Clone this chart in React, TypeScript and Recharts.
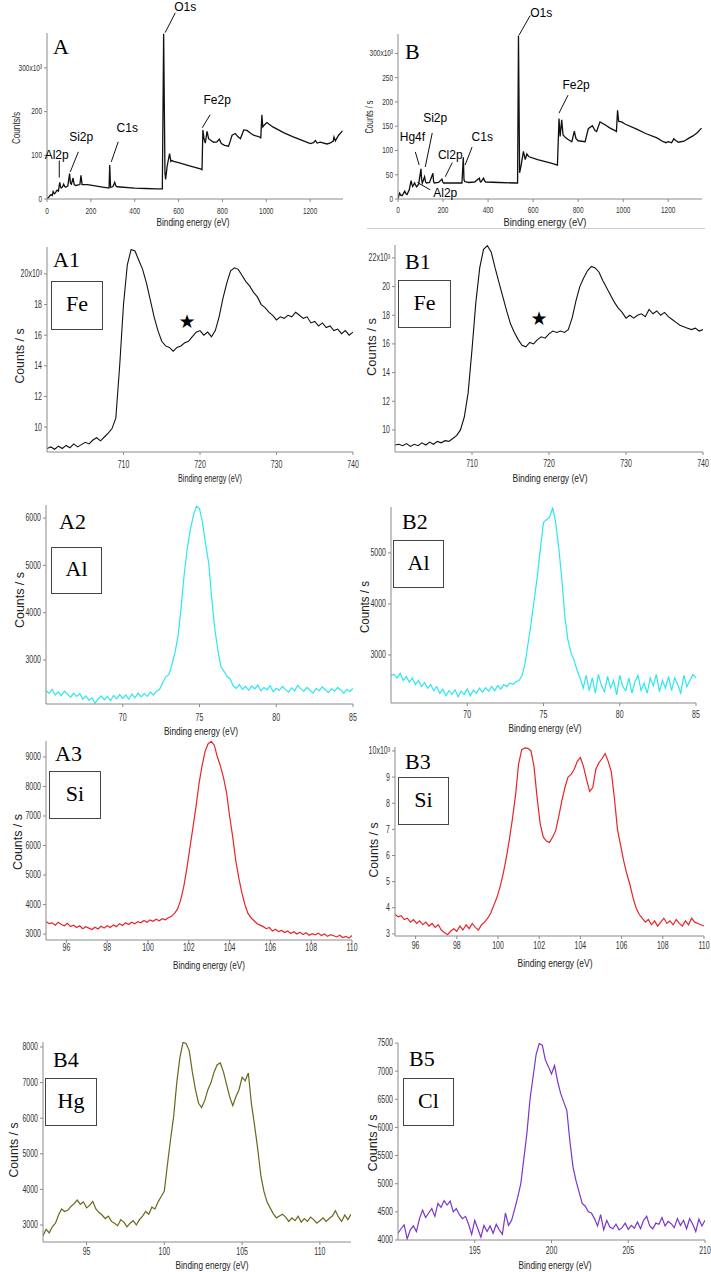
import React from 'react';
import { LineChart, Line, XAxis, YAxis, ReferenceLine, ReferenceDot } from 'recharts';

const SANS = "'Liberation Sans', Arial, Helvetica, sans-serif";
const SERIF = "'Liberation Serif', 'Times New Roman', Times, serif";

// ---------- Survey A (binding energy eV, counts/s x10^3) ----------
const surveyAEnergy = [0, 8, 12, 18, 24, 28, 34, 38, 46, 52, 58, 62, 65, 70, 76, 80, 85, 95, 103, 107, 111, 119, 124, 131, 150, 155, 160, 185, 220, 246, 270, 283, 286, 290, 300, 309, 314, 320, 400, 450, 500, 526, 532, 538, 541, 548, 559, 565, 570, 578, 600, 650, 700, 707, 711, 716, 722, 730, 737, 745, 760, 775, 786, 795, 810, 828, 836, 844, 859, 870, 882, 890, 897, 912, 930, 942, 965, 975, 980, 984, 992, 1003, 1030, 1079, 1120, 1155, 1201, 1215, 1224, 1232, 1246, 1277, 1290, 1305, 1309, 1315, 1330, 1348];
const surveyACounts = [1, 4, 7, 10, 8, 17, 12, 14, 20, 18, 38, 28, 25, 27, 34, 29, 27, 30, 58, 36, 34, 48, 33, 31, 33, 54, 33, 33, 30, 28, 26, 25, 78, 27, 28, 38, 30, 28, 25, 24, 23, 23, 378, 60, 45, 75, 104, 86, 88, 86, 83, 76, 69, 67, 158, 138, 128, 155, 138, 135, 130, 131, 137, 127, 123, 121, 133, 146, 150, 143, 138, 148, 158, 157, 150, 146, 143, 140, 193, 165, 170, 175, 165, 152, 143, 136, 127, 129, 134, 128, 130, 126, 128, 132, 142, 133, 146, 156];

// ---------- Survey B ----------
const surveyBEnergy = [0, 7, 12, 18, 24, 30, 36, 40, 50, 58, 62, 65, 74, 79, 83, 92, 102, 105, 108, 118, 122, 126, 140, 155, 158, 161, 180, 195, 199, 202, 250, 284, 290, 293, 296, 313, 340, 361, 365, 368, 380, 385, 390, 450, 520, 531, 535, 540, 547, 557, 565, 572, 582, 620, 680, 708, 715, 720, 727, 733, 745, 757, 772, 783, 790, 800, 831, 845, 863, 875, 882, 897, 919, 942, 964, 970, 975, 980, 993, 1010, 1060, 1100, 1150, 1178, 1190, 1200, 1215, 1225, 1232, 1245, 1270, 1290, 1310, 1330, 1348];
const surveyBCounts = [1, 12, 8, 7, 11, 16, 10, 9, 19, 38, 30, 26, 33, 28, 25, 31, 62, 40, 33, 46, 36, 33, 34, 53, 36, 33, 34, 41, 35, 33, 33, 33, 86, 40, 36, 34, 35, 43, 36, 35, 43, 37, 35, 34, 33, 33, 337, 54, 70, 98, 81, 93, 87, 81, 74, 70, 166, 129, 163, 132, 126, 122, 118, 140, 125, 120, 118, 145, 151, 141, 139, 159, 153, 146, 141, 139, 183, 160, 159, 154, 144, 135, 126, 118, 116, 118, 116, 124, 121, 117, 119, 125, 130, 137, 146];

// ---------- Fe 2p (700 -> 740 eV, step 0.5), counts/s x10^3 ----------
const fe2pA = [
  8.6, 8.7, 8.55, 8.75, 8.6, 8.8, 8.65, 8.9, 8.7, 8.85,
  9.0, 8.9, 9.15, 9.3, 9.1, 9.35, 9.6, 9.9, 10.6, 14.0,
  18.0, 20.6, 21.6, 21.5, 20.9, 20.3, 19.4, 18.3, 17.2, 16.3,
  15.6, 15.3, 15.2, 14.95, 15.2, 15.3, 15.5, 15.6, 15.9, 16.2,
  16.3, 16.0, 16.2, 15.9, 16.3, 17.2, 18.4, 19.4, 20.2, 20.4,
  20.3, 19.9, 19.5, 19.2, 18.8, 18.5, 18.0, 17.8, 17.5, 17.3,
  17.0, 17.2, 17.1, 17.3, 17.2, 17.5, 17.3, 17.1, 17.2, 16.8,
  16.9, 16.6, 16.8, 16.5, 16.6, 16.3, 16.4, 16.1, 16.3, 16.0,
  16.2,
];
const fe2pB = [
  8.95, 9.0, 8.9, 9.05, 8.85, 9.0, 8.9, 9.1, 8.95, 9.15,
  9.0, 9.2, 9.1, 9.25, 9.2, 9.4, 9.6, 10.0, 10.9, 12.6,
  15.6, 18.9, 21.3, 22.6, 22.85, 22.4, 21.3, 20.3, 19.3, 18.3,
  17.4, 16.8, 16.3, 15.9, 15.8, 16.1, 16.0, 16.3, 16.5, 16.4,
  16.7, 16.9, 16.8, 16.9, 16.8, 17.0, 17.8, 19.0, 20.0, 20.6,
  21.1, 21.4, 21.3, 21.0, 20.4, 19.9, 19.4, 18.9, 18.5, 18.2,
  17.8, 18.0, 17.8, 18.0, 18.1, 17.9, 18.4, 18.1, 18.3, 18.0,
  18.2, 17.9, 17.7, 17.5, 17.3, 17.2, 17.1, 17.0, 17.1, 16.9,
  17.0,
];

// ---------- Al 2p (65 -> 85 eV, step 0.2) ----------
const al2pA = [
  2350, 2300, 2380, 2260, 2320, 2250, 2340, 2280, 2210, 2300,
  2230, 2290, 2170, 2240, 2150, 2200, 2090, 2180, 2240, 2160,
  2230, 2140, 2250, 2180, 2270, 2190, 2260, 2170, 2280, 2200,
  2300, 2220, 2290, 2230, 2320, 2260, 2340, 2380, 2520, 2640,
  2690, 2900, 3150, 3500, 4100, 4800, 5350, 5750, 6050, 6250,
  6200, 5900, 5450, 5050, 4300, 3650, 3200, 2850, 2760, 2650,
  2600, 2450, 2400, 2480, 2380, 2440, 2360, 2450, 2390, 2470,
  2350, 2420, 2370, 2460, 2330, 2400, 2360, 2440, 2380, 2320,
  2410, 2350, 2460, 2390, 2340, 2420, 2360, 2300, 2400, 2350,
  2430, 2370, 2310, 2390, 2340, 2420, 2360, 2300, 2380, 2330,
  2400,
];
const al2pB = [
  2600, 2620, 2550, 2640, 2500, 2580, 2470, 2550, 2420, 2500,
  2380, 2460, 2350, 2420, 2300, 2380, 2250, 2330, 2200, 2300,
  2230, 2320, 2180, 2290, 2220, 2340, 2200, 2310, 2250, 2350,
  2270, 2360, 2290, 2380, 2300, 2400, 2330, 2420, 2380, 2450,
  2420, 2480, 2500, 2600, 2850, 3250, 3650, 4100, 4550, 5100,
  5600, 5650, 5700, 5880, 5600, 5100, 4500, 3750, 3300, 3050,
  2900, 2700, 2550, 2350, 2600, 2300, 2550, 2250, 2620, 2400,
  2280, 2580, 2350, 2500, 2220, 2600, 2380, 2300, 2550, 2250,
  2480, 2600, 2300, 2450, 2250, 2550, 2400, 2620, 2280, 2500,
  2350, 2580, 2300, 2550, 2420, 2250, 2600, 2380, 2500, 2620,
  2550,
];

// ---------- Si 2p (95 -> 110 eV, step 0.15) ----------
const si2pA = [
  3420, 3350, 3380, 3300, 3400, 3320, 3280, 3360, 3250, 3300,
  3220, 3280, 3180, 3250, 3200, 3150, 3230, 3170, 3260, 3200,
  3280, 3220, 3310, 3250, 3350, 3290, 3380, 3320, 3400, 3350,
  3420, 3380, 3460, 3400, 3480, 3430, 3500, 3450, 3520, 3480,
  3550, 3600, 3700, 3850, 4150, 4600, 5200, 5900, 6600, 7300,
  8100, 8700, 9200, 9450, 9530, 9400, 9000, 8700, 8300, 7800,
  7000, 6300, 5500, 4900, 4400, 4000, 3700, 3550, 3450, 3350,
  3300, 3250, 3180, 3220, 3100, 3160, 3080, 3120, 3050, 3100,
  3020, 3080, 3000, 3060, 2980, 3040, 2960, 3010, 2970, 3030,
  2950, 3000, 2920, 2980, 2940, 2900, 2960, 2880, 2920, 2860,
  2950,
];
const si2pB = [
  3.75, 3.65, 3.70, 3.55, 3.60, 3.45, 3.55, 3.40, 3.50, 3.35,
  3.45, 3.30, 3.40, 3.25, 3.35, 3.15, 3.05, 2.97, 3.10, 3.20,
  3.10, 3.30, 3.15, 3.35, 3.20, 3.40, 3.25, 3.15, 3.35, 3.45,
  3.60, 3.80, 4.10, 4.40, 4.80, 5.30, 5.90, 6.60, 7.40, 8.30,
  9.50, 10.05, 10.12, 10.10, 10.00, 9.40, 8.20, 7.20, 6.70, 6.55,
  6.50, 6.70, 6.95, 7.50, 8.10, 8.60, 9.00, 9.10, 9.30, 9.60,
  9.75, 9.40, 8.90, 8.45, 8.60, 9.30, 9.55, 9.70, 9.90, 9.60,
  9.20, 8.20, 7.00, 6.40, 5.80, 5.30, 4.90, 4.40, 4.00, 3.75,
  3.60, 3.45, 3.55, 3.35, 3.50, 3.30, 3.45, 3.60, 3.40, 3.50,
  3.35, 3.55, 3.40, 3.30, 3.50, 3.35, 3.60, 3.45, 3.40, 3.35,
  3.30,
];

// ---------- Hg 4f (92.2 -> 112.0 eV, step 0.2) ----------
const hg4fB = [
  2700, 2880, 2780, 2950, 3050, 3280, 3450, 3380, 3420, 3520,
  3600, 3700, 3580, 3650, 3480, 3550, 3660, 3450, 3350, 3280,
  3180, 3250, 3100, 3050, 2980, 3150, 3080, 2950, 3050, 3120,
  3000, 3150, 3250, 3380, 3300, 3500, 3450, 3650, 3800, 3950,
  4700, 5400, 6050, 7000, 7700, 8130, 8100, 7900, 7300, 6800,
  6420, 6300, 6500, 6800, 7000, 7300, 7500, 7550, 7300, 6950,
  6600, 6350, 6600, 6800, 7150, 7050, 7270, 6400, 5800, 5150,
  4400, 3950, 3650, 3480, 3320, 3200, 3250, 3300, 3220, 3100,
  3200, 3120, 3250, 3080, 3180, 3100, 3220, 3150, 3050, 3120,
  3200, 3100, 3180, 3250, 3400, 3220, 3100, 3280, 3150, 3300,
];

// ---------- Cl 2p (190 -> 210 eV, step 0.2) ----------
const cl2pB = [
  4120, 4200, 4270, 4020, 4180, 4250, 4150, 4380, 4530, 4400,
  4480, 4560, 4420, 4650, 4580, 4700, 4620, 4690, 4500, 4560,
  4450, 4380, 4420, 4280, 4100, 4350, 4200, 4050, 4260, 4150,
  4250, 4120, 4280, 4180, 4100, 4480, 4260, 4350, 4550, 4760,
  5000, 5450, 5900, 6500, 6900, 7300, 7490, 7460, 7200, 7080,
  6950, 7100, 6820, 6600, 6450, 6300, 5750, 5300, 5050, 4850,
  4650, 4600, 4500, 4480, 4380, 4250, 4450, 4180, 4350, 4230,
  4200, 4280, 4180, 4220, 4300, 4190, 4260, 4210, 4320, 4200,
  4350, 4420, 4250, 4200, 4300, 4280, 4400, 4250, 4330, 4290,
  4220, 4380, 4260, 4350, 4200, 4380, 4280, 4150, 4370, 4250,
  4350,
];

// ---------- tick labels ----------
const surveyTicks = [0, 200, 400, 600, 800, 1000, 1200];
const feTicks = [710, 720, 730, 740];
const alTicks = [70, 75, 80, 85];
const siTicks = [96, 98, 100, 102, 104, 106, 108, 110];
const hgTicks = [95, 100, 105, 110];
const clTicks = [195, 200, 205, 210];

type Pt = { e: number; v: number };
const grid = (start: number, step: number, vals: number[]): Pt[] =>
  vals.map((v, i) => ({ e: Math.round((start + i * step) * 1000) / 1000, v }));
const pairs = (es: number[], vs: number[]): Pt[] => es.map((e, i) => ({ e, v: vs[i] }));

interface Leader { x1: number; y1: number; x2: number; y2: number }
interface Note { text: string; x: number; y: number; size: number; font?: string }

interface PanelProps {
  data: Pt[];
  xDomain: [number, number];
  xTicks: number[];
  yDomain: [number, number];
  yTicks: number[];
  left: number; top: number; right: number; bottom: number;
  color: string; sw: number; fs: number; sx: number; xdy: number;
  sup?: Record<number, string>;
  leaders?: Leader[];
  notes?: Note[];
}

function Panel(p: PanelProps) {
  const YW = 45, MR = 12, XH = 30;
  const MT = Math.min(40, p.top);
  const w = p.right - p.left + YW + MR;
  const h = p.bottom - p.top + MT + XH;
  const xTick = (props: any) => {
    const { x, y, payload } = props;
    return (
      <text x={x} y={y - 5 + p.xdy} textAnchor="middle" dominantBaseline="central" fontSize={p.fs}
        fontFamily={SANS} fill="#333" transform={`translate(${x} 0) scale(${p.sx} 1) translate(${-x} 0)`}>
        {payload.value}
      </text>
    );
  };
  const yTick = (props: any) => {
    const { x, y, payload } = props;
    const label = p.sup && p.sup[payload.value] ? p.sup[payload.value] : String(payload.value);
    return (
      <text x={x} y={y} textAnchor="end" dominantBaseline="central" fontSize={p.fs}
        fontFamily={SANS} fill="#333" transform={`translate(${x} 0) scale(${p.sx} 1) translate(${-x} 0)`}>
        {label}
      </text>
    );
  };
  return (
    <div style={{ position: 'absolute', left: p.left - YW, top: p.top - MT, width: w, height: h }}>
      <LineChart width={w} height={h} data={p.data} margin={{ top: MT, right: MR, left: 0, bottom: 0 }}>
        <XAxis type="number" dataKey="e" domain={p.xDomain} ticks={p.xTicks} interval={0} allowDataOverflow
          height={XH} tickSize={3} tickMargin={2} stroke="#8a8a8a" tick={xTick} />
        <YAxis type="number" dataKey="v" domain={p.yDomain} ticks={p.yTicks} interval={0} allowDataOverflow
          width={YW} tickSize={3} tickMargin={2} stroke="#8a8a8a" tick={yTick} />
        <Line type="linear" dataKey="v" stroke={p.color} strokeWidth={p.sw} dot={false} isAnimationActive={false} />
        {(p.leaders || []).map((l, i) => (
          <ReferenceLine key={'l' + i} segment={[{ x: l.x1, y: l.y1 }, { x: l.x2, y: l.y2 }]}
            ifOverflow="visible" stroke="#111" strokeWidth={1} />
        ))}
        {(p.notes || []).map((n, i) => (
          <ReferenceDot key={'n' + i} x={n.x} y={n.y} r={0.01} fill="none" stroke="none" ifOverflow="visible"
            label={{ value: n.text, position: 'center', fontSize: n.size, fill: '#000', fontFamily: n.font || SANS }} />
        ))}
      </LineChart>
    </div>
  );
}

const XTitle = ({ cx, cy, w, fs = 11 }: { cx: number; cy: number; w: number; fs?: number }) => (
  <div style={{ position: 'absolute', left: cx, top: cy, transform: `translate(-50%,-50%) scaleX(${w / (8.837 * fs)})`,
    fontSize: fs, fontFamily: SANS, whiteSpace: 'nowrap', lineHeight: 1, color: '#222' }}>Binding energy (eV)</div>
);

const YTitle = ({ cx, cy, len, text = 'Counts / s', fs = 12 }: { cx: number; cy: number; len: number; text?: string; fs?: number }) => {
  const em = text === 'Counts/s' ? 3.946 : 4.502;
  return (
    <div style={{ position: 'absolute', left: cx, top: cy,
      transform: `translate(-50%,-50%) rotate(-90deg) scaleX(${len / (em * fs)})`,
      fontSize: fs, fontFamily: SANS, whiteSpace: 'nowrap', lineHeight: 1, color: '#222' }}>{text}</div>
  );
};

const PLabel = ({ x, y, t }: { x: number; y: number; t: string }) => (
  <div style={{ position: 'absolute', left: x, top: y - 4, fontSize: 22, fontFamily: SERIF, lineHeight: 1, color: '#000' }}>{t}</div>
);

const EBox = ({ l, t, r, b, text }: { l: number; t: number; r: number; b: number; text: string }) => (
  <div style={{ position: 'absolute', left: l, top: t, width: r - l, height: b - t, boxSizing: 'border-box',
    border: '1.3px solid #444', display: 'flex', alignItems: 'center', justifyContent: 'center',
    fontFamily: SERIF, fontSize: 22, lineHeight: 1, color: '#000', paddingBottom: 3 }}>{text}</div>
);

const leadersA: Leader[] = [
  { x1: 585, y1: 426, x2: 539, y2: 381 },
  { x1: 744, y1: 193, x2: 708, y2: 163 },
  { x1: 325, y1: 131, x2: 293, y2: 85 },
  { x1: 143, y1: 108, x2: 106, y2: 62 },
  { x1: 56, y1: 88, x2: 56, y2: 49 },
];
const notesA: Note[] = [
  { text: 'O1s', x: 630, y: 440, size: 12 },
  { text: 'Fe2p', x: 776, y: 227, size: 12 },
  { text: 'C1s', x: 366, y: 164, size: 12 },
  { text: 'Si2p', x: 156, y: 143, size: 12 },
  { text: 'Al2p', x: 44, y: 101, size: 12 },
];
const leadersB: Leader[] = [
  { x1: 587, y1: 378, x2: 538, y2: 338 },
  { x1: 755, y1: 214, x2: 715, y2: 177 },
  { x1: 77, y1: 97, x2: 94, y2: 70 },
  { x1: 152, y1: 136, x2: 121, y2: 66 },
  { x1: 241, y1: 75, x2: 210, y2: 46 },
  { x1: 329, y1: 107, x2: 298, y2: 70 },
  { x1: 143, y1: 19, x2: 86, y2: 34 },
];
const notesB: Note[] = [
  { text: 'O1s', x: 636, y: 383, size: 12 },
  { text: 'Fe2p', x: 791, y: 235, size: 12 },
  { text: 'Hg4f', x: 64, y: 128, size: 12 },
  { text: 'Si2p', x: 165, y: 167, size: 12 },
  { text: 'Cl2p', x: 232, y: 91, size: 12 },
  { text: 'C1s', x: 374, y: 128, size: 12 },
  { text: 'Al2p', x: 210, y: 13, size: 12 },
];

export default function App() {
  const black = '#111';
  const cyan = '#2ee6ef';
  const red = '#e5252a';
  const olive = '#6b671a';
  const purple = '#7a35c9';
  return (
    <div style={{ position: 'absolute', left: 0, top: 0, width: 711, height: 1272, background: '#fff', overflow: 'hidden' }}>
      <Panel data={pairs(surveyAEnergy, surveyACounts)} xDomain={[0, 1350]} xTicks={surveyTicks}
        yDomain={[0, 380]} yTicks={[0, 100, 200, 300]} left={47} top={33} right={343} bottom={199}
        color={black} sw={1.3} fs={9} sx={0.72} xdy={12} sup={{ 300: '300x10³' }} leaders={leadersA} notes={notesA} />
      <Panel data={pairs(surveyBEnergy, surveyBCounts)} xDomain={[0, 1350]} xTicks={surveyTicks}
        yDomain={[0, 340]} yTicks={[0, 50, 100, 150, 200, 250, 300]} left={398} top={34} right={702} bottom={199}
        color={black} sw={1.3} fs={9} sx={0.72} xdy={11} sup={{ 300: '300x10³' }} leaders={leadersB} notes={notesB} />

      <Panel data={grid(700, 0.5, fe2pA)} xDomain={[700, 740]} xTicks={feTicks}
        yDomain={[8.37, 21.76]} yTicks={[10, 12, 14, 16, 18, 20]} left={47} top={247} right={353} bottom={452}
        color={black} sw={1.1} fs={10} sx={0.7} xdy={13} sup={{ 20: '20x10³' }}
        notes={[{ text: '★', x: 718.3, y: 16.9, size: 19, font: "'DejaVu Sans', sans-serif" }]} />
      <Panel data={grid(700, 0.5, fe2pB)} xDomain={[700, 740]} xTicks={feTicks}
        yDomain={[8.46, 22.9]} yTicks={[10, 12, 14, 16, 18, 20, 22]} left={395} top={245} right={703} bottom={452}
        color={black} sw={1.1} fs={10} sx={0.7} xdy={12} sup={{ 22: '22x10³' }}
        notes={[{ text: '★', x: 718.7, y: 17.8, size: 19, font: "'DejaVu Sans', sans-serif" }]} />

      <Panel data={grid(65, 0.2, al2pA)} xDomain={[65, 85]} xTicks={alTicks}
        yDomain={[2070, 6275]} yTicks={[3000, 4000, 5000, 6000]} left={46} top={505} right={353} bottom={704}
        color={cyan} sw={1.2} fs={10} sx={0.7} xdy={14} />
      <Panel data={grid(65, 0.2, al2pB)} xDomain={[65, 85]} xTicks={alTicks}
        yDomain={[2059, 5900]} yTicks={[3000, 4000, 5000]} left={391} top={507} right={696} bottom={703}
        color={cyan} sw={1.2} fs={10} sx={0.7} xdy={12} />

      <Panel data={grid(95, 0.15, si2pA)} xDomain={[95, 110]} xTicks={siTicks}
        yDomain={[2797, 9542]} yTicks={[3000, 4000, 5000, 6000, 7000, 8000, 9000]} left={46} top={741} right={352} bottom={940}
        color={red} sw={1.2} fs={10} sx={0.7} xdy={8} />
      <Panel data={grid(95, 0.15, si2pB)} xDomain={[95, 110]} xTicks={siTicks}
        yDomain={[2.92, 10.15]} yTicks={[3, 4, 5, 6, 7, 8, 9, 10]} left={395} top={747} right={704} bottom={936}
        color={red} sw={1.2} fs={10} sx={0.7} xdy={10} sup={{ 10: '10x10³' }} />

      <Panel data={grid(92.2, 0.2, hg4fB)} xDomain={[92.2, 112]} xTicks={hgTicks}
        yDomain={[2522, 8140]} yTicks={[3000, 4000, 5000, 6000, 7000, 8000]} left={43} top={1042} right={351} bottom={1242}
        color={olive} sw={1.2} fs={10} sx={0.7} xdy={10} />
      <Panel data={grid(190, 0.2, cl2pB)} xDomain={[190, 210]} xTicks={clTicks}
        yDomain={[4000, 7500]} yTicks={[4000, 4500, 5000, 5500, 6000, 6500, 7000, 7500]} left={398} top={1043} right={705} bottom={1240}
        color={purple} sw={1.2} fs={10} sx={0.7} xdy={11} />

      {/* separator under panel B */}
      <div style={{ position: 'absolute', left: 367, top: 228, width: 338, height: 1, background: '#cfcfcf' }} />

      {/* axis titles */}
      <XTitle cx={193} cy={222} w={73} />
      <XTitle cx={545} cy={222} w={83} />
      <XTitle cx={210} cy={478} w={64} />
      <XTitle cx={550} cy={478} w={75} />
      <XTitle cx={201} cy={731} w={74} />
      <XTitle cx={545} cy={728} w={73} />
      <XTitle cx={209} cy={965} w={72} />
      <XTitle cx={555} cy={963} w={75} />
      <XTitle cx={212} cy={1265} w={73} fs={10.5} />
      <XTitle cx={555} cy={1265} w={73} fs={10.5} />

      <YTitle cx={17} cy={128} len={32} text="Counts/s" fs={10} />
      <YTitle cx={370} cy={117} len={33} fs={10} />
      <YTitle cx={20} cy={356} len={55} />
      <YTitle cx={372} cy={347} len={58} />
      <YTitle cx={20} cy={600} len={56} />
      <YTitle cx={365} cy={607} len={52} />
      <YTitle cx={18} cy={842} len={56} />
      <YTitle cx={374} cy={850} len={55} />
      <YTitle cx={14} cy={1150} len={55} />
      <YTitle cx={373} cy={1143} len={57} />

      {/* panel labels */}
      <PLabel x={53} y={40} t="A" />
      <PLabel x={405} y={45} t="B" />
      <PLabel x={53} y={253} t="A1" />
      <PLabel x={405} y={255} t="B1" />
      <PLabel x={59} y={515} t="A2" />
      <PLabel x={402} y={515} t="B2" />
      <PLabel x={55} y={747} t="A3" />
      <PLabel x={405} y={755} t="B3" />
      <PLabel x={53} y={1053} t="B4" />
      <PLabel x={409} y={1052} t="B5" />

      {/* element boxes */}
      <EBox l={51} t={281} r={103} b={330} text="Fe" />
      <EBox l={398} t={280} r={451} b={328} text="Fe" />
      <EBox l={51} t={547} r={102} b={594} text="Al" />
      <EBox l={393} t={540} r={444} b={588} text="Al" />
      <EBox l={49} t={771} r={101} b={819} text="Si" />
      <EBox l={398} t={777} r={449} b={825} text="Si" />
      <EBox l={45} t={1078} r={97} b={1126} text="Hg" />
      <EBox l={403} t={1078} r={454} b={1126} text="Cl" />
    </div>
  );
}
